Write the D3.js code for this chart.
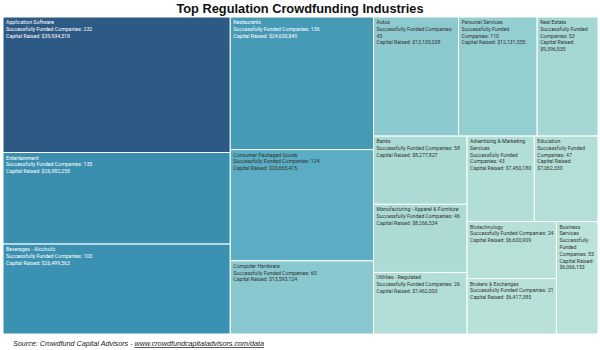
<!DOCTYPE html>
<html>
<head>
<meta charset="utf-8">
<script src="https://cdn.jsdelivr.net/npm/d3@7"></script>
<style>
  body { margin: 0; background: #fff; }
  .title { font-family: "Liberation Sans", Arial, sans-serif; font-weight: bold; font-size: 12.8px; fill: #111; }
  .cell text { font-family: Roboto, sans-serif; font-size: 5.2px; }
  .source { font-family: "Liberation Sans", Arial, sans-serif; font-style: italic; font-size: 7.2px; fill: #222; }
</style>
</head>
<body>
<div id="chart"></div>
<script>
var w = 600, h = 350;
var margin = {top: 17, right: 2, bottom: 16, left: 3};

var industries = ["Application Software", "Entertainment", "Beverages - Alcoholic",
  "Restaurants", "Consumer Packaged Goods", "Computer Hardware",
  "Autos", "Personal Services", "Real Estate",
  "Banks", "Manufacturing - Apparel & Furniture", "Utilities - Regulated",
  "Advertising & Marketing Services", "Education",
  "Biotechnology", "Brokers & Exchanges", "Business Services"];
var companies = [232, 135, 103, 136, 124, 60, 45, 110, 53, 58, 46, 26, 43, 47, 24, 21, 55];
var capital = [39934518, 26982258, 26499563, 24630849, 20665415, 13593124,
  13130038, 12131555, 9396535, 8277827, 8266534, 7462003, 7450180, 7062330,
  6600909, 6417385, 6066153];

// how the tiles are grouped: "h" = side by side, "v" = stacked, numbers = index
var groups = ["h", ["v", 0, 1, 2], ["v", 3, 4, 5],
  ["v", ["h", 6, 7, 8],
        ["h", ["v", 9, 10, 11],
              ["v", ["h", 12, 13], ["h", ["v", 14, 15], 16]]]]];

function build(g) {
  if (typeof g === "number") return {i: g};
  return {dir: g[0], children: g.slice(1).map(build)};
}

var root = d3.hierarchy(build(groups))
  .sum(function(d) { return d.i !== undefined ? capital[d.i] : 0; });

d3.treemap()
  .size([w - margin.left - margin.right, h - margin.top - margin.bottom])
  .tile(function(node, x0, y0, x1, y1) {
    (node.data.dir === "h" ? d3.treemapDice : d3.treemapSlice)(node, x0, y0, x1, y1);
  })(root);

var color = d3.scaleLinear()
  .domain([6066153, 13130038, 20665415, 26499563, 39934518])
  .range(["#bae3d9", "#8dcad0", "#5aadc2", "#3b91b1", "#2d5a85"]);

var fmt = d3.format(",");

var svg = d3.select("#chart").append("svg")
  .attr("width", w)
  .attr("height", h);

svg.append("text")
  .attr("class", "title")
  .attr("x", w / 2)
  .attr("y", 13)
  .attr("text-anchor", "middle")
  .text("Top Regulation Crowdfunding Industries");

var g = svg.append("g")
  .attr("transform", "translate(" + margin.left + "," + margin.top + ")");

var cells = g.selectAll("g.cell")
  .data(root.leaves())
  .enter()
  .append("g")
  .attr("class", "cell")
  .attr("transform", function(d) { return "translate(" + d.x0 + "," + d.y0 + ")"; });

cells.append("rect")
  .attr("width", function(d) { return d.x1 - d.x0; })
  .attr("height", function(d) { return d.y1 - d.y0; })
  .attr("fill", function(d) { return color(capital[d.data.i]); })
  .attr("stroke", "#fff")
  .attr("stroke-width", 1);

cells.each(function(d) {
  var i = d.data.i;
  var cell = d3.select(this);
  var maxW = d.x1 - d.x0 - 4;
  var dark = d3.lab(color(capital[i])).l < 62;
  var txt = cell.append("text")
    .attr("fill", dark ? "#fff" : "#333");
  var paras = [industries[i],
    "Successfully Funded Companies: " + companies[i],
    "Capital Raised: $" + fmt(capital[i])];
  var lineNo = 0;
  paras.forEach(function(p) {
    var words = p.split(" ");
    var line = [];
    var ts = txt.append("tspan").attr("x", 3).attr("y", 7 + lineNo * 6.8);
    words.forEach(function(wd) {
      line.push(wd);
      ts.text(line.join(" "));
      if (ts.node().getComputedTextLength() > maxW && line.length > 1) {
        line.pop();
        ts.text(line.join(" "));
        line = [wd];
        lineNo++;
        ts = txt.append("tspan").attr("x", 3).attr("y", 7 + lineNo * 6.8).text(wd);
      }
    });
    lineNo++;
  });
});

var src = svg.append("text")
  .attr("class", "source")
  .attr("x", 13)
  .attr("y", 346);
src.append("tspan").text("Source: Crowdfund Capital Advisors - ");
src.append("tspan").attr("text-decoration", "underline")
  .text("www.crowdfundcapitaladvisors.com/data");
</script>
</body>
</html>
